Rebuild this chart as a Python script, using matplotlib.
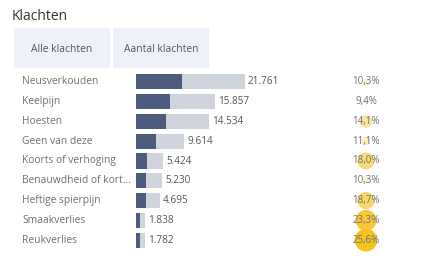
import numpy as np
import matplotlib.pyplot as plt
from matplotlib.patches import Rectangle
from matplotlib.transforms import blended_transform_factory
from matplotlib.colors import LinearSegmentedColormap

plt.rcParams['font.family'] = ['Open Sans', 'DejaVu Sans']

# [Data]______________________________________________________________________

klachten = ["Neusverkouden", "Keelpijn", "Hoesten", "Geen van deze",
            "Koorts of verhoging", "Benauwdheid of kort...", "Heftige spierpijn",
            "Smaakverlies", "Reukverlies"]
aantal = [21761, 15857, 14534, 9614, 5424, 5230, 4695, 1838, 1782]
aantal_labels = ["21.761", "15.857", "14.534", "9.614", "5.424", "5.230", "4.695", "1.838", "1.782"]
subset = [9200, 6800, 6000, 4000, 2200, 2000, 2000, 700, 700]
percentage = [10.3, 9.4, 14.1, 11.1, 18.0, 10.3, 18.7, 23.3, 25.6]
buttons = ["Alle klachten", "Aantal klachten"]

# [Figure]____________________________________________________________________

W, H = 433, 260
fig = plt.figure(figsize=(W / 100, H / 100), dpi=100)
fig.patch.set_facecolor("white")

fig.text(12 / W, 1 - 17 / H, "Klachten", fontsize=10, color="#333333", va="center", ha="left")

# buttons
for i, b in enumerate(buttons):
    x0 = 14 + i * 99
    fig.patches.append(Rectangle((x0 / W, 1 - 68 / H), 96 / W, 40 / H,
                                 transform=fig.transFigure, facecolor="#EEF2F8",
                                 edgecolor="none"))
    fig.text((x0 + 48) / W, 1 - 49 / H, b, fontsize=7.4, color="#555555",
             ha="center", va="center")

# bars
ax = fig.add_axes([136 / W, 1 - 250 / H, 297 / W, 178 / H])
xmax = 21761 * 297 / 109
ax.set_xlim(0, xmax)
ax.set_ylim(len(klachten) - 0.5, -0.5)
ax.axis("off")

y = np.arange(len(klachten))
ax.barh(y, aantal, height=0.76, color="#CFD3DC", zorder=1)
ax.barh(y, subset, height=0.76, color="#4D5B7E", zorder=2)

for yi, v, lab in zip(y, aantal, aantal_labels):
    ax.text(v + xmax * 3 / 297, yi, lab, fontsize=7.2, color="#555555",
            va="center", ha="left")

lab_tr = blended_transform_factory(fig.transFigure, ax.transData)
for yi, k in zip(y, klachten):
    ax.text(22 / W, yi, k, transform=lab_tr, fontsize=7.4, color="#707070",
            va="center", ha="left", clip_on=False)

# percentage circles
p = np.array(percentage)
cmap = LinearSegmentedColormap.from_list("geel", ["#FDF6DA", "#F6C21C"])
norm = np.clip((p - 9.0) / (25.6 - 9.0), 0, 1)
pct_tr = blended_transform_factory(ax.transAxes, ax.transData)
px = (366 - 136) / 297
ax.scatter(np.full(len(y), px), y, s=norm * 260 + 4, c=cmap(norm),
           transform=pct_tr, zorder=3, clip_on=False, linewidths=0)
for yi, v in zip(y, p):
    ax.text(px, yi, f"{v:.1f}%".replace(".", ","), transform=pct_tr,
            fontsize=7, color="#707070", ha="center", va="center", zorder=4)

plt.savefig("out.png", dpi=100)
